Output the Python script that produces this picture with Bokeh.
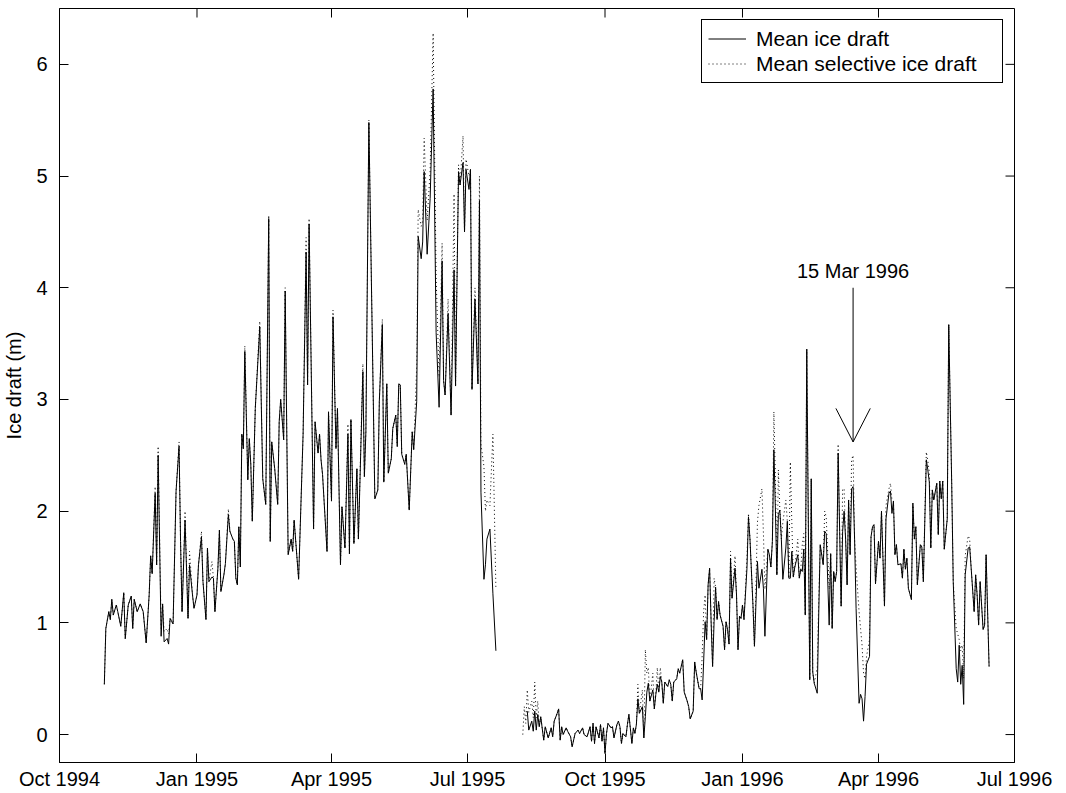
import pandas as pd
from bokeh.plotting import figure
from bokeh.models import (Range1d, FixedTicker, DatetimeTickFormatter, Legend, LegendItem)
from bokeh.core.properties import value
from bokeh.embed import file_html
from bokeh.resources import INLINE

# ---------------- data (days counted from 1 Oct 1994) ----------------
origin = "1994-10-01"

days1 = [30, 31, 33, 34, 35, 36, 38, 39, 41, 43, 44, 46, 48, 49, 50, 52, 54, 56, 58, 60,
         61, 62, 64, 65, 66, 68, 69, 70, 72, 73, 74, 76, 78, 80, 81, 82, 84, 86, 87, 89,
         90, 92, 93, 95, 96, 98, 99, 100, 102, 103, 104, 106, 107, 108, 110, 111, 113, 114, 116, 117,
         118, 119, 120, 121, 122, 123, 124, 126, 127, 128, 129, 131, 134, 136, 138, 140, 141, 142, 144, 146,
         147, 148, 150, 151, 153, 155, 156, 157, 160, 163, 165, 166, 167, 170, 171, 173, 174, 175, 176, 179,
         180, 182, 183, 185, 186, 188, 189, 191, 193, 194, 195, 197, 199, 200, 203, 204, 205, 207, 211, 213,
         214, 216, 217, 219, 220, 222, 223, 225, 226, 227, 228, 229, 231, 232, 234, 236, 237, 239, 240, 242,
         243, 244, 246, 248, 250, 252, 254, 256, 257, 258, 260, 262, 264, 265, 267, 268, 270, 271, 272, 274,
         275, 276, 278, 280, 281, 282, 284, 285, 286, 288, 290, 292]
ice1 = [0.45, 0.95, 1.10, 1.03, 1.21, 1.07, 1.16, 1.10, 0.97, 1.27, 0.86, 1.16, 1.24, 0.95, 1.21, 1.10, 1.17, 1.10, 0.82, 1.25,
        1.60, 1.44, 2.16, 1.52, 2.50, 0.88, 1.17, 0.83, 0.86, 0.81, 1.04, 0.99, 2.18, 2.58, 1.73, 1.10, 1.92, 1.04, 1.52, 1.25,
        1.13, 1.25, 1.52, 1.77, 1.37, 1.03, 1.67, 1.37, 1.41, 1.40, 1.10, 1.49, 1.83, 1.28, 1.43, 1.53, 1.97, 1.82, 1.75, 1.73,
        1.40, 1.34, 1.86, 1.50, 2.69, 2.56, 3.43, 2.28, 2.65, 2.42, 1.91, 2.92, 3.65, 2.29, 2.06, 4.62, 1.73, 2.62, 2.38, 2.06,
        2.80, 3.00, 2.64, 3.97, 1.61, 1.75, 1.64, 1.92, 1.39, 2.69, 4.32, 3.13, 4.57, 1.84, 2.80, 2.52, 2.69, 2.46, 2.33, 1.64,
        2.89, 2.09, 3.74, 2.56, 2.92, 1.52, 2.04, 1.67, 2.69, 1.62, 2.82, 1.71, 2.38, 1.75, 3.25, 2.31, 2.71, 5.48, 2.11, 2.19,
        2.98, 3.67, 2.26, 3.14, 2.34, 2.47, 2.74, 2.86, 2.58, 3.14, 3.13, 2.51, 2.42, 2.51, 2.01, 2.71, 2.55, 2.98, 4.46, 4.26,
        4.41, 5.04, 4.30, 4.80, 5.78, 3.60, 2.93, 4.24, 3.17, 3.04, 3.77, 2.86, 4.16, 3.12, 5.04, 4.92, 5.12, 4.50, 5.06, 4.88,
        5.06, 3.09, 3.90, 3.14, 4.78, 2.17, 1.39, 1.52, 1.75, 1.84, 1.26, 0.75]
sel1 = [0.45, 0.95, 1.10, 1.03, 1.21, 1.07, 1.16, 1.10, 0.97, 1.27, 0.86, 1.16, 1.24, 0.95, 1.21, 1.10, 1.17, 1.10, 0.82, 1.25,
        1.60, 1.44, 2.22, 1.52, 2.58, 0.95, 1.17, 0.92, 0.95, 0.90, 1.04, 0.99, 2.18, 2.62, 1.73, 1.10, 2.00, 1.04, 1.64, 1.25,
        1.13, 1.25, 1.52, 1.82, 1.37, 1.03, 1.67, 1.37, 1.55, 1.40, 1.10, 1.49, 1.83, 1.28, 1.43, 1.53, 2.02, 1.82, 1.75, 1.73,
        1.40, 1.34, 1.86, 1.50, 2.69, 2.56, 3.48, 2.28, 2.65, 2.42, 1.91, 2.92, 3.70, 2.29, 2.06, 4.65, 1.73, 2.62, 2.38, 2.06,
        2.80, 3.00, 2.64, 4.00, 1.61, 1.75, 1.64, 1.92, 1.39, 2.69, 4.45, 3.13, 4.62, 1.84, 2.80, 2.52, 2.69, 2.46, 2.33, 1.64,
        2.89, 2.09, 3.80, 2.56, 2.92, 1.52, 2.04, 1.67, 2.78, 1.62, 2.82, 1.71, 2.38, 1.75, 3.32, 2.31, 2.71, 5.50, 2.11, 2.19,
        2.98, 3.72, 2.26, 3.14, 2.34, 2.47, 2.74, 2.86, 2.58, 3.14, 3.13, 2.51, 2.42, 2.51, 2.01, 2.71, 2.55, 3.30, 4.70, 4.55,
        4.60, 5.34, 4.60, 5.05, 6.28, 4.10, 3.20, 4.40, 3.17, 3.04, 3.90, 2.86, 4.84, 3.12, 5.10, 4.92, 5.36, 4.50, 5.15, 5.00,
        5.06, 3.09, 4.00, 3.14, 5.00, 2.60, 2.40, 2.00, 2.10, 2.05, 2.69, 1.30]

days2 = [313, 314, 316, 317, 318, 319, 320, 321, 322, 324, 325, 327, 329, 330, 331, 333, 334, 335, 336, 337,
         339, 340, 342, 343, 345, 347, 348, 350, 351, 353, 355, 356, 357, 358, 359, 361, 362, 363, 364, 365,
         366, 367, 369, 370, 371, 373, 374, 375, 376, 377, 379, 380, 381, 383, 384, 385, 386, 387, 388, 390,
         391, 392, 393, 394, 395, 397, 398, 399, 400, 401, 402, 403, 404, 405, 407, 408, 409, 410, 411, 413,
         414, 415, 417, 418, 420, 421, 422, 424, 425, 426, 428, 429, 430, 431, 432, 433, 434, 435, 436, 437,
         438, 439, 440, 441, 442, 444, 445, 446, 447, 448, 449, 450, 452, 453, 454, 455, 456, 457, 458, 460,
         461, 462, 464, 465, 467, 468, 470, 471, 472, 474, 475, 476, 477, 478, 479, 480, 481, 482, 483, 484,
         486, 487, 488, 489, 490, 491, 492, 494, 495, 496, 497, 498, 499, 500, 502, 503, 504, 505, 507, 508,
         509, 511, 512, 513, 515, 516, 517, 518, 519, 520, 521, 522, 523, 524, 525, 526, 527, 528, 529, 530,
         531, 532, 533, 535, 536, 537, 538, 539, 540, 542, 543, 544, 545, 546, 548, 549, 550, 552, 553, 555,
         556, 557, 558, 559, 560, 561, 563, 564, 565, 566, 567, 568, 570, 571, 572, 573, 574, 576, 577, 578,
         580, 581, 582, 583, 584, 585, 587, 588, 589, 590, 591, 592, 594, 595, 597, 598, 600, 601, 602, 603,
         604, 605, 606, 608, 609, 610, 612, 613, 614, 615, 616, 618, 619, 620, 622]
ice2 = [0.21, 0.04, 0.12, 0.03, 0.21, 0.04, 0.18, 0.07, 0.16, -0.05, 0.07, -0.03, 0.06, -0.02, 0.12, 0.19, 0.23, -0.05, 0.07, 0.00,
        0.06, 0.03, -0.02, -0.11, 0.01, 0.04, 0.01, 0.06, 0.00, -0.02, 0.07, -0.06, 0.10, -0.08, 0.07, -0.03, 0.09, -0.06, 0.06, -0.17,
        0.01, 0.10, 0.06, 0.07, -0.03, 0.09, 0.12, 0.07, -0.08, 0.01, -0.02, 0.09, 0.18, -0.08, 0.06, 0.01, 0.09, 0.32, 0.19, 0.25,
        -0.03, 0.16, 0.38, 0.46, 0.30, 0.40, 0.23, 0.36, 0.45, 0.38, 0.52, 0.47, 0.28, 0.47, 0.43, 0.49, 0.45, 0.30, 0.47, 0.50,
        0.59, 0.55, 0.67, 0.38, 0.30, 0.25, 0.14, 0.21, 0.65, 0.56, 0.41, 0.41, 0.31, 0.65, 1.01, 0.85, 1.34, 1.49, 1.01, 0.61,
        1.01, 1.32, 1.03, 1.19, 1.07, 0.97, 0.76, 1.01, 0.94, 0.81, 1.58, 1.22, 1.49, 1.25, 0.76, 1.06, 1.04, 1.16, 1.03, 1.49,
        1.95, 1.75, 1.16, 0.79, 1.55, 1.31, 1.48, 1.31, 0.88, 1.66, 1.61, 1.50, 1.73, 2.55, 2.02, 1.43, 1.97, 2.01, 1.75, 1.39,
        1.67, 1.91, 1.40, 1.40, 1.64, 1.41, 1.50, 1.61, 1.40, 1.48, 1.46, 1.66, 1.07, 3.45, 0.49, 2.29, 0.56, 0.46, 0.37, 1.07,
        1.70, 1.52, 1.82, 1.80, 0.98, 1.62, 0.95, 1.46, 1.37, 1.46, 2.52, 1.82, 1.15, 1.82, 2.00, 1.75, 1.34, 2.10, 1.61, 2.20,
        2.22, 1.75, 1.13, 0.28, 0.36, 0.32, 0.12, 0.34, 0.63, 0.70, 1.77, 1.86, 1.88, 1.35, 1.73, 1.58, 2.00, 1.15, 1.93, 2.16,
        2.18, 1.98, 2.09, 1.61, 1.70, 1.52, 1.53, 1.40, 1.66, 1.48, 1.58, 1.31, 1.21, 2.07, 1.75, 1.86, 1.34, 1.70, 1.68, 1.37,
        2.46, 2.37, 2.26, 1.67, 2.19, 2.10, 2.25, 1.79, 2.27, 2.11, 2.27, 1.66, 1.93, 3.67, 2.24, 1.37, 0.59, 0.47, 0.80, 0.45,
        0.62, 0.27, 1.43, 1.67, 1.68, 1.49, 1.10, 1.43, 1.25, 0.98, 1.37, 0.94, 0.98, 1.61, 0.61]
sel2_lead_days = [310, 311, 312]
sel2_lead = [0.00, 0.25, 0.10]
sel2 = [0.40, 0.20, 0.30, 0.15, 0.47, 0.15, 0.30, 0.07, 0.16, -0.05, 0.07, -0.03, 0.06, -0.02, 0.12, 0.19, 0.23, -0.05, 0.07, 0.00,
        0.06, 0.03, -0.02, -0.11, 0.01, 0.04, 0.01, 0.06, 0.00, -0.02, 0.07, -0.06, 0.10, -0.08, 0.07, -0.03, 0.09, -0.06, 0.06, -0.17,
        0.01, 0.10, 0.06, 0.07, -0.03, 0.09, 0.12, 0.07, -0.08, 0.01, -0.02, 0.09, 0.18, -0.08, 0.06, 0.01, 0.09, 0.45, 0.19, 0.40,
        -0.03, 0.76, 0.55, 0.60, 0.30, 0.55, 0.23, 0.36, 0.60, 0.38, 0.60, 0.47, 0.28, 0.47, 0.43, 0.49, 0.45, 0.30, 0.47, 0.50,
        0.59, 0.55, 0.67, 0.38, 0.30, 0.25, 0.14, 0.21, 0.65, 0.56, 0.41, 0.41, 0.70, 1.10, 1.25, 0.85, 1.34, 1.49, 1.01, 0.61,
        1.40, 1.32, 1.03, 1.19, 1.07, 0.97, 0.76, 1.01, 0.94, 0.81, 1.64, 1.22, 1.60, 1.25, 0.76, 1.06, 1.04, 1.16, 1.03, 1.60,
        1.98, 1.75, 1.16, 0.79, 1.90, 2.05, 2.20, 1.80, 1.30, 1.66, 1.61, 1.50, 1.73, 2.89, 2.30, 1.43, 2.37, 2.01, 1.75, 1.90,
        2.10, 1.91, 1.40, 2.44, 1.90, 1.41, 1.50, 1.75, 1.40, 1.48, 1.70, 1.80, 1.07, 3.45, 0.49, 2.29, 0.56, 0.46, 0.60, 1.20,
        1.70, 1.52, 2.00, 1.95, 1.30, 1.62, 0.95, 1.46, 1.37, 1.46, 2.60, 1.82, 1.15, 2.20, 2.20, 1.75, 1.34, 2.10, 1.61, 2.46,
        2.50, 1.75, 1.50, 1.10, 0.95, 0.80, 0.55, 0.50, 0.70, 0.85, 1.77, 1.86, 1.88, 1.35, 1.73, 1.58, 2.00, 1.15, 2.05, 2.20,
        2.25, 2.10, 2.09, 1.61, 1.70, 1.52, 1.53, 1.40, 1.66, 1.48, 1.58, 1.31, 1.21, 2.07, 1.75, 1.86, 1.34, 1.70, 1.68, 1.37,
        2.53, 2.45, 2.35, 1.67, 2.19, 2.10, 2.25, 1.79, 2.27, 2.11, 2.27, 1.66, 1.93, 3.67, 2.24, 1.37, 0.95, 0.90, 0.85, 0.75,
        0.80, 0.50, 1.60, 1.78, 1.75, 1.49, 1.10, 1.43, 1.25, 0.98, 1.37, 0.94, 0.98, 1.61, 0.61]

tick_dates = ["1994-10-01", "1995-01-01", "1995-04-01", "1995-07-01",
              "1995-10-01", "1996-01-01", "1996-04-01", "1996-07-01"]
y_ticks = [0, 1, 2, 3, 4, 5, 6]
y_limits = [-0.25, 6.5]
series_labels = ["Mean ice draft", "Mean selective ice draft"]
note_text = "15 Mar 1996"
note_date = "1996-03-15"
note_top, note_tip, note_wing, wing_days = 4.0, 2.62, 2.92, 11.5

assert len(days1) == len(ice1) == len(sel1), (len(days1), len(ice1), len(sel1))
assert len(days2) == len(ice2) == len(sel2), (len(days2), len(ice2), len(sel2))

t0 = pd.Timestamp(origin)
def to_dt(d):
    return t0 + pd.to_timedelta(pd.Series(d, dtype=float), unit="D")

FONT = "Liberation Sans"
W, H = 1066, 793
BL, BR, BT, BB = 59, 52, 8, 31
TICK = 9

x0, x1 = pd.Timestamp(tick_dates[0]), pd.Timestamp(tick_dates[-1])
p = figure(width=W, height=H, x_axis_type="datetime",
           x_range=Range1d(x0, x1), y_range=Range1d(*y_limits),
           output_backend="svg", toolbar_location=None,
           min_border_left=BL, min_border_right=BR, min_border_top=BT, min_border_bottom=BB)
p.background_fill_color = "white"
p.border_fill_color = "white"
p.outline_line_color = "black"
p.outline_line_width = 1
p.outline_line_alpha = 1.0
p.grid.visible = False

tick_ms = [pd.Timestamp(d).value // 10**6 for d in tick_dates]
fmt = DatetimeTickFormatter(days="%b %Y", months="%b %Y", years="%b %Y", hours="%b %Y")

for ax in (p.xaxis[0], p.yaxis[0]):
    ax.axis_line_color = "black"
    ax.major_tick_line_color = "black"
    ax.major_tick_in = TICK
    ax.major_tick_out = 0
    ax.minor_tick_line_color = None
    ax.major_label_text_font = FONT
    ax.major_label_text_color = "black"
    ax.major_label_text_font_size = "20px"

xa = p.xaxis[0]
xa.ticker = FixedTicker(ticks=tick_ms)
xa.formatter = fmt
xa.major_label_standoff = 5

ya = p.yaxis[0]
ya.ticker = FixedTicker(ticks=y_ticks)
ya.major_label_standoff = 12
ya.axis_label = "Ice draft (m)"
ya.axis_label_text_font = FONT
ya.axis_label_text_font_size = "20px"
ya.axis_label_text_font_style = "normal"
ya.axis_label_text_color = "black"
ya.axis_label_standoff = 8

# mirrored inward ticks on the top and right edges of the box
fw, fh = W - BL - BR, H - BT - BB
dy = TICK * (y_limits[1] - y_limits[0]) / fh
dx = pd.Timedelta(days=TICK * (x1 - x0).days / fw)
top_x = [pd.Timestamp(d) for d in tick_dates]
p.segment(x0=top_x, y0=[y_limits[1]] * len(top_x), x1=top_x, y1=[y_limits[1] - dy] * len(top_x),
          line_color="black", line_width=1)
p.segment(x0=[x1] * len(y_ticks), y0=y_ticks, x1=[x1 - dx] * len(y_ticks), y1=y_ticks,
          line_color="black", line_width=1)

# lines
r_sel1 = p.line(to_dt(days1), sel1, line_color="black", line_width=1, line_dash="1 3")
r_sel2 = p.line(to_dt(sel2_lead_days + days2), sel2_lead + sel2, line_color="black",
                line_width=1, line_dash="1 3")
r_ice1 = p.line(to_dt(days1), ice1, line_color="black", line_width=1)
r_ice2 = p.line(to_dt(days2), ice2, line_color="black", line_width=1)

# annotation arrow
nd = pd.Timestamp(note_date)
wd = pd.Timedelta(days=wing_days)
p.segment(x0=[nd, nd - wd, nd + wd], y0=[note_top, note_wing, note_wing],
          x1=[nd, nd, nd], y1=[note_tip, note_tip, note_tip],
          line_color="black", line_width=1)
p.text(x=[nd], y=[note_top + 0.15], text=[note_text], text_font=value(FONT),
       text_font_size="20px", text_align="center", text_baseline="alphabetic",
       text_color="black")

legend = Legend(items=[LegendItem(label=series_labels[0], renderers=[r_ice1]),
                       LegendItem(label=series_labels[1], renderers=[r_sel1])],
                location="top_right", margin=11, padding=6, spacing=0,
                glyph_width=38, glyph_height=25, label_height=25, label_width=240,
                label_standoff=10,
                label_text_font=FONT, label_text_font_size="21px", label_text_color="black",
                border_line_color="black", border_line_width=1, border_line_alpha=1.0,
                background_fill_color="white", background_fill_alpha=1.0)
p.add_layout(legend)

open("out.html", "w").write(file_html(p, INLINE))
